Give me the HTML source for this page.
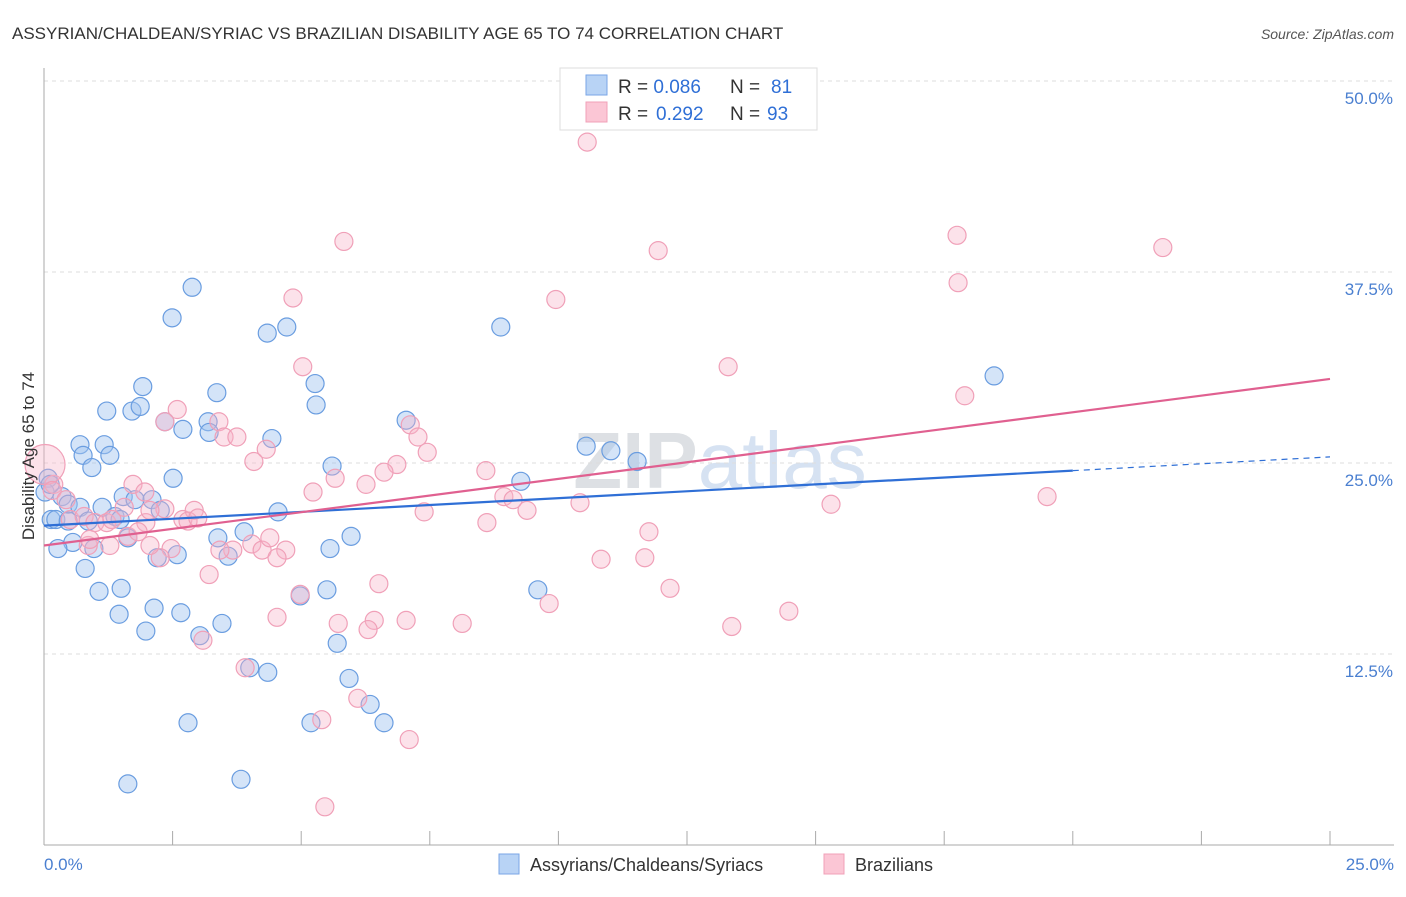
<!DOCTYPE html>
<html><head><meta charset="utf-8"><style>
body{margin:0;background:#fff;font-family:"Liberation Sans",sans-serif;}
svg text{font-family:"Liberation Sans",sans-serif;}
</style></head><body>
<svg id="chart" width="1406" height="892" xmlns="http://www.w3.org/2000/svg">
<text x="12" y="39" font-size="17" fill="#333">ASSYRIAN/CHALDEAN/SYRIAC VS BRAZILIAN DISABILITY AGE 65 TO 74 CORRELATION CHART</text>
<text x="1394" y="39" font-size="14" font-style="italic" fill="#555" text-anchor="end">Source: ZipAtlas.com</text>
<text x="720" y="488" font-size="80" fill="#e4e8ee" text-anchor="middle" font-family="Liberation Serif"><tspan font-weight="bold" fill="#dde0e4">ZIP</tspan><tspan fill="#d6e2f2" font-family="Liberation Sans">atlas</tspan></text>
<g id="grid"></g>
<g id="axes"></g>
<g id="pts"></g>
<g id="lines"></g>
<text transform="translate(34,456) rotate(-90)" font-size="17" fill="#333" text-anchor="middle">Disability Age 65 to 74</text>
<g>
<rect x="560" y="68" width="257" height="62" fill="#fff" stroke="#ddd"/>
<rect x="586" y="75" width="21" height="20" fill="#b8d3f5" stroke="#7aa6e6"/>
<rect x="586" y="102" width="21" height="20" fill="#fbc6d5" stroke="#f0a0b8"/>
<text x="618" y="93" font-size="19" fill="#333">R = <tspan fill="#2f6fd6">0.086</tspan><tspan x="730">N = </tspan><tspan fill="#2f6fd6" x="771">81</tspan></text>
<text x="618" y="120" font-size="19" fill="#333">R = <tspan fill="#2f6fd6" x="656">0.292</tspan><tspan x="730">N = </tspan><tspan fill="#2f6fd6" x="767">93</tspan></text>
</g>
<g>
<rect x="499" y="854" width="20" height="20" fill="#b8d3f5" stroke="#7aa6e6"/>
<text x="530" y="871" font-size="18" fill="#333">Assyrians/Chaldeans/Syriacs</text>
<rect x="824" y="854" width="20" height="20" fill="#fbc6d5" stroke="#f0a0b8"/>
<text x="855" y="871" font-size="18" fill="#333">Brazilians</text>
</g>
</svg>
<script>
const yTicks=[12.5,25,37.5,50];
const yTickLabels=["12.5%","25.0%","37.5%","50.0%"];
const xTickCount=10;
const blueX=[2.88,2.49,4.34,4.72,8.88,18.47,1.92,5.27,3.36,1.22,1.71,1.87,5.29,7.04,2.35,2.70,3.19,3.21,4.43,10.54,11.02,11.53,0.70,1.17,0.76,1.28,0.93,5.60,2.51,9.27,0.08,0.02,0.35,0.14,0.47,0.70,1.13,1.54,1.77,2.10,2.26,1.38,0.86,0.23,0.47,4.55,0.56,0.27,0.97,1.63,2.20,2.59,3.38,3.58,3.89,5.56,5.97,0.80,1.07,1.50,1.46,2.14,2.66,1.98,3.03,3.46,4.98,5.50,9.60,5.70,4.00,4.35,5.93,6.34,2.80,5.19,6.61,3.83,1.63,0.12,1.48];
const blueY=[36.5,34.5,33.5,33.9,33.9,30.7,30.0,30.2,29.6,28.4,28.4,28.7,28.8,27.8,27.7,27.2,27.7,27.0,26.6,26.1,25.8,25.1,26.2,26.2,25.5,25.5,24.7,24.8,24.0,23.8,24.0,23.1,22.8,21.3,22.3,22.1,22.1,22.8,22.6,22.6,21.9,21.5,21.2,21.3,21.2,21.8,19.8,19.4,19.4,20.1,18.8,19.0,20.1,18.9,20.5,19.4,20.2,18.1,16.6,16.8,15.1,15.5,15.2,14.0,13.7,14.5,16.3,16.7,16.7,13.2,11.6,11.3,10.9,9.2,8.0,8.0,8.0,4.3,4.0,23.6,21.3];
const pinkX=[10.56,5.83,11.94,17.75,21.75,4.84,9.95,17.77,5.03,13.30,17.90,2.59,2.35,3.40,3.50,3.75,4.32,4.08,7.12,7.27,7.45,6.86,6.61,5.66,6.26,5.23,8.59,8.94,9.12,9.39,10.42,15.30,19.50,8.61,7.39,11.76,11.68,10.83,12.17,9.82,13.37,14.48,0.19,0.02,0.16,0.43,0.51,0.78,0.99,1.22,1.73,1.96,1.98,2.35,2.70,2.92,2.80,2.99,1.63,1.83,1.28,0.86,2.47,2.26,3.21,3.09,3.91,3.67,4.04,4.24,4.70,4.53,4.98,4.53,5.72,6.42,6.30,7.04,6.51,8.13,6.10,5.40,7.10,5.46,1.56,1.32,2.06,4.39,3.42,0.89,2.06];
const pinkY=[46.0,39.5,38.9,39.9,39.1,35.8,35.7,36.8,31.3,31.3,29.4,28.5,27.7,27.7,26.7,26.7,25.9,25.1,27.5,26.7,25.7,24.9,24.4,24.0,23.6,23.1,24.5,22.8,22.6,21.9,22.4,22.3,22.8,21.1,21.8,20.5,18.8,18.7,16.8,15.8,14.3,15.3,23.6,24.9,23.2,22.6,21.3,21.5,21.1,21.1,23.6,23.1,21.1,22.0,21.3,21.9,21.2,21.4,20.2,20.5,19.6,19.6,19.4,18.8,17.7,13.4,11.6,19.3,19.7,19.3,19.3,18.8,16.4,14.9,14.5,14.7,14.1,14.7,17.1,14.5,9.6,8.2,6.9,2.5,22.1,21.3,19.6,20.1,19.3,20.0,21.9];
const blueTrend=[[0,20.9],[20,24.5],[25,25.4]];
const pinkTrend=[[0,19.6],[25,30.5]];
const X0=44,X1=1330,Y0=845,YPX=15.28;
const sx=v=>X0+(X1-X0)*v/25;
const sy=v=>Y0-v*YPX;
const NS="http://www.w3.org/2000/svg";
function mk(p,t,a){const e=document.createElementNS(NS,t);for(const k in a)e.setAttribute(k,a[k]);p.appendChild(e);return e;}
const grid=document.getElementById('grid'),axes=document.getElementById('axes');
yTicks.forEach((t,i)=>{
 const g=mk(grid,'line',{x1:X0,x2:1394,y1:sy(t),y2:sy(t),stroke:'#ddd','stroke-dasharray':'4,4'});
 
 
 const l=mk(axes,'text',{x:1393,y:sy(t)+23,'font-size':17,fill:'#4a7fd0','text-anchor':'end'});
 l.textContent=yTickLabels[i];
 
 
});
const ax=mk(axes,'line',{x1:X0,x2:X0,y1:68,y2:Y0,stroke:'#aaa'});


const bx=mk(axes,'line',{x1:X0,x2:1394,y1:Y0,y2:Y0,stroke:'#aaa'});


for(let i=0;i<=xTickCount;i++){const v=25*i/xTickCount;
 const t=mk(axes,'line',{x1:sx(v),x2:sx(v),y1:Y0,y2:Y0-14,stroke:'#aaa'});
 
 }
const xl0=mk(axes,'text',{x:44,y:870,'font-size':17,fill:'#4a7fd0'});xl0.textContent='0.0%';


const xl1=mk(axes,'text',{x:1394,y:870,'font-size':17,fill:'#4a7fd0','text-anchor':'end'});xl1.textContent='25.0%';


const pts=document.getElementById('pts');
blueX.forEach((x,i)=>{const c=mk(pts,'circle',{cx:sx(x),cy:sy(blueY[i]),r:9,fill:'rgba(160,195,240,0.45)',stroke:'#6a9de0','stroke-width':1.2});
 
 });
pinkX.forEach((x,i)=>{const r=(i===43)?20:9;const c=mk(pts,'circle',{cx:sx(x),cy:sy(pinkY[i]),r:r,fill:'rgba(248,180,200,0.38)',stroke:'#f0a0b8','stroke-width':1.2});
 
 });
const lines=document.getElementById('lines');
const b1=mk(lines,'line',{x1:sx(blueTrend[0][0]),y1:sy(blueTrend[0][1]),x2:sx(blueTrend[1][0]),y2:sy(blueTrend[1][1]),stroke:'#2f6fd6','stroke-width':2.2});


const b2=mk(lines,'line',{x1:sx(blueTrend[1][0]),y1:sy(blueTrend[1][1]),x2:sx(blueTrend[2][0]),y2:sy(blueTrend[2][1]),stroke:'#2f6fd6','stroke-width':1.2,'stroke-dasharray':'6,5'});


const p1=mk(lines,'line',{x1:sx(pinkTrend[0][0]),y1:sy(pinkTrend[0][1]),x2:sx(pinkTrend[1][0]),y2:sy(pinkTrend[1][1]),stroke:'#e06090','stroke-width':2.2});


</script>
</body></html>
